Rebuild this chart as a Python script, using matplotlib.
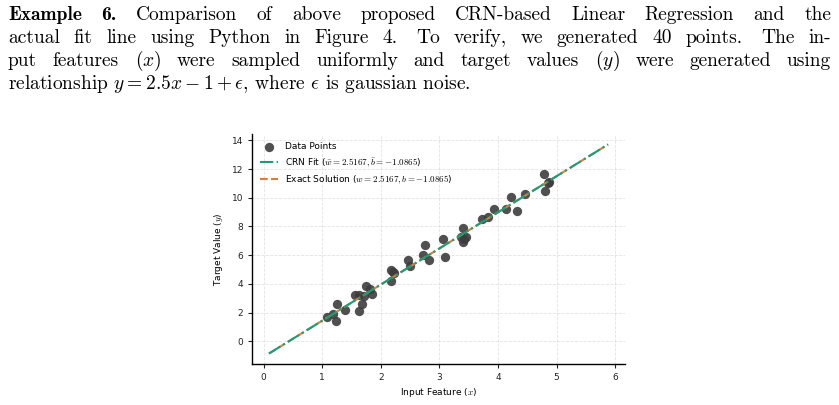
import numpy as np
import matplotlib
matplotlib.use("Agg")
import matplotlib.pyplot as plt

plt.rcParams['mathtext.fontset'] = 'cm'

# data points
x_pts = [1.08, 1.19, 1.23, 1.26, 1.39, 1.56, 1.62, 1.62, 1.68, 1.72,
         1.74, 1.81, 1.85, 2.17, 2.22, 2.18, 2.20, 2.47, 2.50, 2.76,
         2.72, 2.83, 3.06, 3.10, 3.40, 3.37, 3.45, 3.41, 3.42, 3.73,
         3.83, 3.93, 4.14, 4.23, 4.32, 4.46, 4.79, 4.87, 4.85, 4.80]
y_pts = [1.67, 1.92, 1.44, 2.57, 2.18, 3.22, 3.20, 2.08, 2.62, 3.12,
         3.87, 3.64, 3.26, 4.98, 4.75, 4.21, 4.83, 5.63, 5.23, 6.69,
         6.00, 5.65, 7.13, 5.88, 7.90, 7.25, 7.29, 6.94, 7.10, 8.52,
         8.68, 9.22, 9.19, 10.07, 9.08, 10.26, 11.65, 11.09, 11.00, 10.47]

w_crn, b_crn = 2.5167, -1.0865
w_exact, b_exact = 2.5167, -1.0865
line_x = np.linspace(0.09, 5.88, 50)

para_lines = [
    ["Example", "6.", "Comparison", "of", "above", "proposed", "CRN-based",
     "Linear", "Regression", "and", "the"],
    ["actual", "fit", "line", "using", "Python", "in", "Figure", "4.", "To",
     "verify,", "we", "generated", "40", "points.", "The", "in-"],
    ["put", "features", "$(x)$", "were", "sampled", "uniformly", "and",
     "target", "values", "$(y)$", "were", "generated", "using"],
]
last_line = r"relationship $y = 2.5x - 1 + \epsilon$, where $\epsilon$ is gaussian noise."

W, H = 839, 405
fig = plt.figure(figsize=(W / 100, H / 100), dpi=100)

# paragraph above the chart, justified by hand
renderer = fig.canvas.get_renderer()
x_left, x_right = 8, 831
baselines = [20, 43, 66, 89]
para_size = 14
for i, words in enumerate(para_lines):
    texts = []
    for j, w in enumerate(words):
        fam = 'cmb10' if (i == 0 and j < 2) else 'cmr10'
        t = fig.text(0, 1 - baselines[i] / H, w, family=fam, fontsize=para_size,
                     va='baseline', ha='left')
        texts.append(t)
    widths = [t.get_window_extent(renderer).width for t in texts]
    # a bit more room after a full stop, like TeX does
    weights = [1.35 if w.endswith('.') and w != '6.' else 1.0 for w in words[:-1]]
    unit = (x_right - x_left - sum(widths)) / sum(weights)
    xpos = x_left
    for k, t in enumerate(texts):
        t.set_x(xpos / W)
        if k < len(weights):
            xpos += widths[k] + unit * weights[k]
fig.text(x_left / W, 1 - baselines[3] / H, last_line, family='cmr10',
         fontsize=para_size, va='baseline', ha='left')

# chart
ax = fig.add_axes([252 / W, 1 - 364 / H, (625 - 252) / W, (364 - 134) / H])
ax.scatter(x_pts, y_pts, s=45, color='#3d3d3d', alpha=0.9, linewidths=0,
           label='Data Points', zorder=2)
ax.plot(line_x, w_crn * line_x + b_crn, color='#1b9e77', linestyle='-.',
        linewidth=1.5, zorder=4,
        label=r'CRN Fit ($\bar{w}=2.5167, \bar{b}=-1.0865$)')
ax.plot(line_x, w_exact * line_x + b_exact, color='#e07b39', linestyle='--',
        linewidth=1.5, zorder=3,
        label=r'Exact Solution ($w=2.5167, b=-1.0865$)')

ax.set_xticks(range(0, 7))
ax.set_yticks(range(0, 15, 2))
ax.tick_params(labelsize=6.5, length=3, width=0.8, colors='#222222')
ax.set_xlabel('Input Feature ($x$)', fontsize=6.5, labelpad=3)
ax.set_ylabel('Target Value ($y$)', fontsize=6.5, labelpad=5)
ax.grid(True, linestyle='--', color='#cccccc', alpha=0.55, linewidth=0.6)
ax.spines['top'].set_visible(False)
ax.spines['right'].set_visible(False)
for s in ('left', 'bottom'):
    ax.spines[s].set_linewidth(1.0)

ax.legend(loc='upper left', frameon=False, fontsize=6.5)

fig.savefig('out.png', dpi=100)
